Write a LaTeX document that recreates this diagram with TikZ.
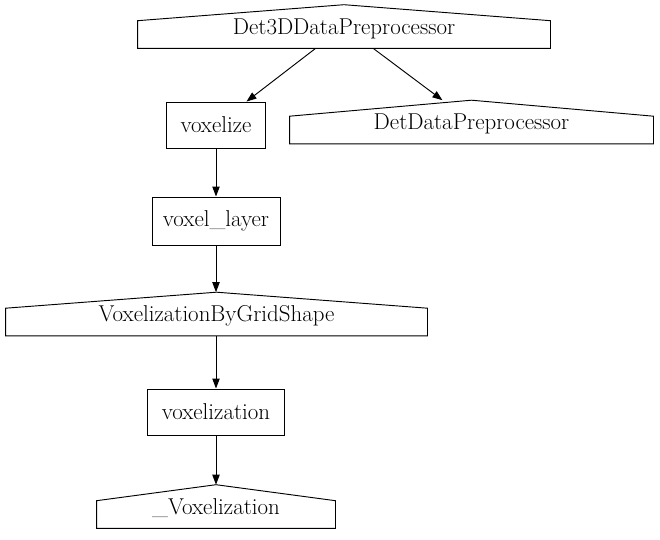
\documentclass[tikz,border=0pt]{standalone}
\usepackage{tikz}
\usetikzlibrary{arrows.meta}
\usetikzlibrary{positioning}

% roof outline for the class nodes
\newcommand{\roofbox}[1]{%
  \draw (#1.south west) -- (#1.south east) -- ([yshift=-12pt]#1.north east)
    -- (#1.north) -- ([yshift=-12pt]#1.north west) -- cycle;}

\begin{document}
\begin{tikzpicture}[x=0.75pt, y=-0.75pt, line width=0.7pt,
  >={Triangle[length=7.5pt,width=5.5pt]},
  every node/.style={font=\fontsize{17.2}{19}\selectfont, inner sep=0pt},
  fn/.style={draw, minimum width=#1},
  cls/.style={minimum width=#1, minimum height=32pt, text height=1.35em, text depth=0.2em}]

  \useasboundingbox (0,0) rectangle (660,539);

%%%%%%%%%%%% classes
  \node[cls=309pt] (det3d) at (344, 26.5) {Det3DDataPreprocessor};
  \node[cls=272.25pt] (detdata) at (471.5, 122) {DetDataPreprocessor};
  \node[cls=315.75pt] (gridshape) at (216.5, 314) {VoxelizationByGridShape};
  \node[cls=178.5pt] (vox) at (216, 506.5) {\_Voxelization};
  \foreach \n in {det3d, detdata, gridshape, vox}
    \roofbox{\n};

%%%%%%%%%%%% members
  \node[fn=74.5pt, minimum height=34.5pt] (voxelize) at (216, 125) {voxelize};
  \node[fn=96pt, minimum height=36pt] (layer) at (216, 221) {voxel\_layer};
  \node[fn=102.75pt, minimum height=34.5pt] (voxelization) at (216, 412) {voxelization};

  \draw[->] (det3d) -- (voxelize);
  \draw[->] (det3d) -- (detdata);
  \draw[->] (voxelize) -- (layer);
  \draw[->] (layer) -- (layer |- gridshape.north);
  \draw[->] (gridshape.south -| voxelization) -- (voxelization);
  \draw[->] (voxelization) -- (voxelization |- vox.north);
\end{tikzpicture}
\end{document}
